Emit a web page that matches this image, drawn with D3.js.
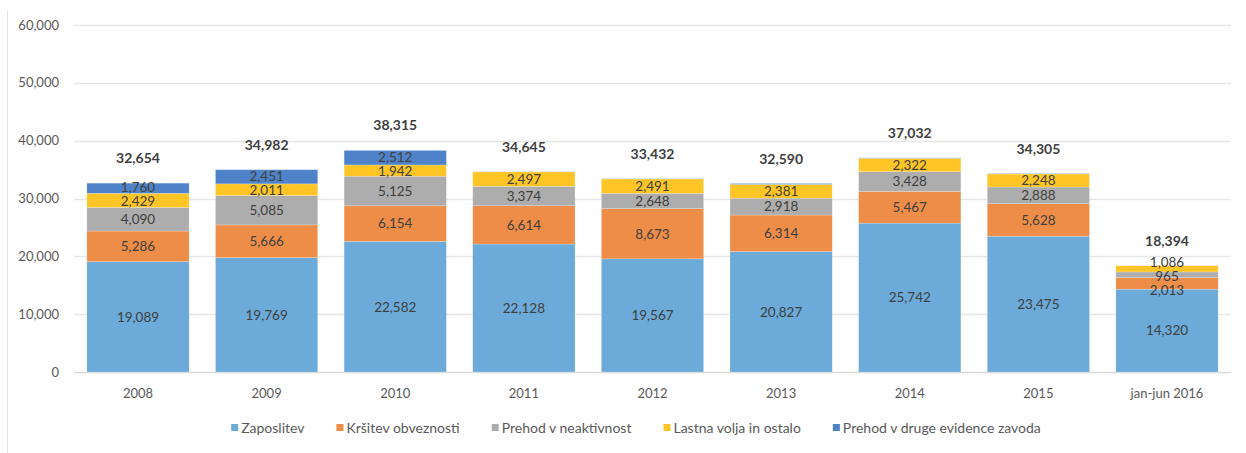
<!DOCTYPE html>
<html><head><meta charset="utf-8">
<script src="https://cdn.jsdelivr.net/npm/d3@7/dist/d3.min.js"></script>
<style>
body{margin:0;background:#fff;}
svg text{font-family:Lato,"Open Sans",sans-serif;}
</style></head>
<body><svg id="c" width="1246" height="453"></svg>
<script>
const categories = ["2008","2009","2010","2011","2012","2013","2014","2015","jan-jun 2016"];
const seriesNames = ["Zaposlitev","Kršitev obveznosti","Prehod v neaktivnost","Lastna volja in ostalo","Prehod v druge evidence zavoda"];
const zaposlitev = [19089,19769,22582,22128,19567,20827,25742,23475,14320];
const krsitev = [5286,5666,6154,6614,8673,6314,5467,5628,2013];
const neaktivnost = [4090,5085,5125,3374,2648,2918,3428,2888,965];
const lastnaVolja = [2429,2011,1942,2497,2491,2381,2322,2248,1086];
const drugeEvidence = [1760,2451,2512,32,53,150,73,66,10];
const totals = [32654,34982,38315,34645,33432,32590,37032,34305,18394];
const yTicks = [0,10000,20000,30000,40000,50000,60000];
const colors = ["#6BAAD9","#EE8D48","#ADADAD","#FFC526","#4F83C9"];

const series = [zaposlitev,krsitev,neaktivnost,lastnaVolja,drugeEvidence];
const rows = categories.map((c,i)=>{const o={cat:c,total:totals[i]};seriesNames.forEach((s,j)=>o[s]=series[j][i]);return o;});
const stacked = d3.stack().keys(seriesNames)(rows);

const svg = d3.select("#c");
const x = d3.scaleBand().domain(categories).range([74,1231]).paddingInner(0.205).paddingOuter(0.1);
const y = d3.scaleLinear().domain([0,60000]).range([372,25]);
const fmt = d3.format(",");

svg.append("line").attr("x1",7.5).attr("x2",7.5).attr("y1",10).attr("y2",453).attr("stroke","#E3E3E3");

svg.append("g").selectAll("line").data(yTicks).join("line")
  .attr("x1",74).attr("x2",1231).attr("y1",d=>Math.round(y(d))+0.5).attr("y2",d=>Math.round(y(d))+0.5)
  .attr("stroke",d=>d===0?"#D9D9D9":"#E6E6E6").attr("stroke-width",1.3);

svg.append("g").selectAll("text").data(yTicks).join("text")
  .attr("x",59).attr("y",d=>y(d)).attr("dy","0.35em").attr("text-anchor","end")
  .attr("font-size",13).attr("fill","#595959").text(d=>fmt(d));

const g = svg.append("g");
stacked.forEach((s,j)=>{
  g.append("g").selectAll("rect").data(s).join("rect")
    .attr("x",d=>x(d.data.cat)).attr("width",x.bandwidth())
    .attr("y",d=>y(d[1])).attr("height",d=>y(d[0])-y(d[1]))
    .attr("fill",colors[j]).attr("stroke","#fff").attr("stroke-opacity",0.35).attr("stroke-width",0.6);
});

// segment labels with simple de-overlap per bar
const minGap = 14;
categories.forEach((c,i)=>{
  let labs = [];
  stacked.forEach((s,j)=>{
    const d = s[i];
    const v = d[1]-d[0];
    if (v > 400) labs.push({v, y0:(y(d[0])+y(d[1]))/2});
  });
  // labs sorted bottom (large y) to top
  let clusters = labs.map(l=>({items:[l], c:l.y0}));
  let changed = true;
  while (changed) {
    changed = false;
    for (let k=0;k<clusters.length-1;k++){
      const a = clusters[k], b = clusters[k+1];
      const aTop = a.c - (a.items.length-1)*minGap/2;
      const bBot = b.c + (b.items.length-1)*minGap/2;
      if (aTop - bBot < minGap) {
        const items = a.items.concat(b.items);
        const mean = d3.mean(items,t=>t.y0);
        clusters.splice(k,2,{items, c:mean});
        changed = true; break;
      }
    }
  }
  clusters.forEach(cl=>{
    const n = cl.items.length;
    cl.items.forEach((t,k)=>{ t.y = cl.c + ((n-1)/2 - k)*minGap; });
  });
  g.append("g").selectAll("text").data(labs).join("text")
    .attr("x",x(c)+x.bandwidth()/2).attr("y",d=>d.y).attr("dy","0.36em")
    .attr("text-anchor","middle").attr("font-size",13.5).attr("fill","#404040")
    .text(d=>fmt(d.v));
});

svg.append("g").selectAll("text").data(rows).join("text")
  .attr("x",d=>x(d.cat)+x.bandwidth()/2).attr("y",d=>y(d.total)-25).attr("dy","0.36em")
  .attr("text-anchor","middle").attr("font-size",14).attr("font-weight","bold").attr("fill","#404040")
  .text(d=>fmt(d.total));

svg.append("g").selectAll("text").data(categories).join("text")
  .attr("x",d=>x(d)+x.bandwidth()/2).attr("y",393).attr("dy","0.35em")
  .attr("text-anchor","middle").attr("font-size",13).attr("fill","#595959").text(d=>d);

const lg = svg.append("g");
let cx = 0;
seriesNames.forEach((n,j)=>{
  const it = lg.append("g");
  it.append("rect").attr("x",0).attr("y",-4).attr("width",7).attr("height",7).attr("fill",colors[j]);
  const t = it.append("text").attr("x",10).attr("y",0).attr("dy","0.35em").attr("font-size",14).attr("fill","#595959").text(n);
  const w = 10 + t.node().getComputedTextLength();
  it.attr("transform",`translate(${cx},428)`);
  cx += w + 32;
});
const totalW = cx - 32;
lg.attr("transform",`translate(${636 - totalW/2},0)`);
</script></body></html>
